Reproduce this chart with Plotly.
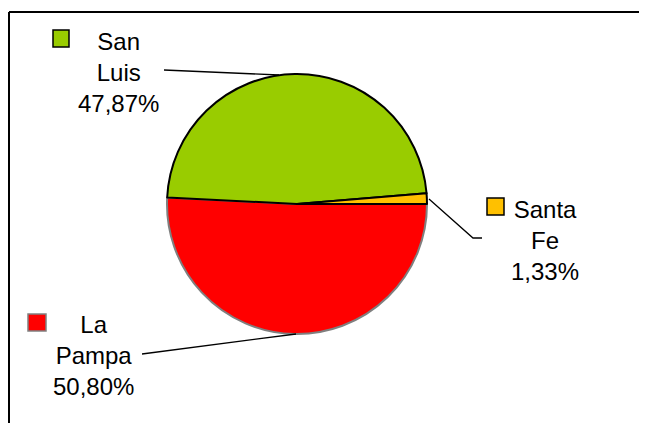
import plotly.graph_objects as go

# Data
labels = ["La Pampa", "San Luis", "Santa Fe"]
values = [50.80, 47.87, 1.33]
colors = ["#FF0000", "#99CC00", "#FFC000"]
outline = ["#7F7F7F", "#000000", "#000000"]

OFF = 8  # page body margin
W, H = 647, 423


def px(x):
    return (x - OFF) / W


def py(y):
    return 1 - (y - OFF) / H


fig = go.Figure()
fig.add_trace(go.Pie(
    labels=labels,
    values=values,
    sort=False,
    direction="clockwise",
    rotation=90,
    textinfo="none",
    hoverinfo="label+percent",
    marker=dict(colors=colors, line=dict(color=outline, width=2)),
    domain=dict(x=[px(167), px(427)], y=[py(334), py(74)]),
    showlegend=False,
))

# label layout: center of text block, legend key box, leader line path
label_pos = {
    "San Luis": dict(cx=118, cy=72, key=(53, 30, 69, 47), key_line="#000000",
                     leader=[(164, 70), (279, 75)]),
    "Santa Fe": dict(cx=545, cy=240, key=(487, 198, 504, 215), key_line="#000000",
                     leader=[(429, 199), (473, 238), (482, 238)]),
    "La Pampa": dict(cx=93, cy=355, key=(28, 314, 46, 331), key_line="#808080",
                     leader=[(142, 354), (296, 334)]),
}

shapes = []
annotations = []
for lab, val, col in zip(labels, values, colors):
    p = label_pos[lab]
    txt = lab.replace(" ", "<br>") + "<br>" + f"{val:.2f}".replace(".", ",") + "%"
    annotations.append(dict(
        x=px(p["cx"]), y=py(p["cy"]), xref="paper", yref="paper",
        text=txt, showarrow=False, xanchor="center", yanchor="middle",
        align="center", font=dict(family="Liberation Sans, Arial", size=24, color="#000000"),
    ))
    x0, y0, x1, y1 = p["key"]
    shapes.append(dict(type="rect", xref="paper", yref="paper",
                       x0=px(x0), x1=px(x1), y0=py(y1), y1=py(y0),
                       fillcolor=col, line=dict(color=p["key_line"], width=1.5)))
    pts = p["leader"]
    path = "M " + " L ".join(f"{px(a)},{py(b)}" for a, b in pts)
    shapes.append(dict(type="path", xref="paper", yref="paper", path=path,
                       line=dict(color="#000000", width=1.3)))

# chart border (top and left visible)
shapes.append(dict(type="line", xref="paper", yref="paper",
                   x0=px(9), x1=px(700), y0=py(12), y1=py(12),
                   line=dict(color="#000000", width=2)))
shapes.append(dict(type="line", xref="paper", yref="paper",
                   x0=px(9), x1=px(9), y0=py(12), y1=py(500),
                   line=dict(color="#000000", width=2)))

fig.update_layout(
    width=W, height=H,
    margin=dict(l=0, r=0, t=0, b=0),
    paper_bgcolor="#FFFFFF",
    plot_bgcolor="#FFFFFF",
    shapes=shapes,
    annotations=annotations,
)

fig.write_html("out.html")
